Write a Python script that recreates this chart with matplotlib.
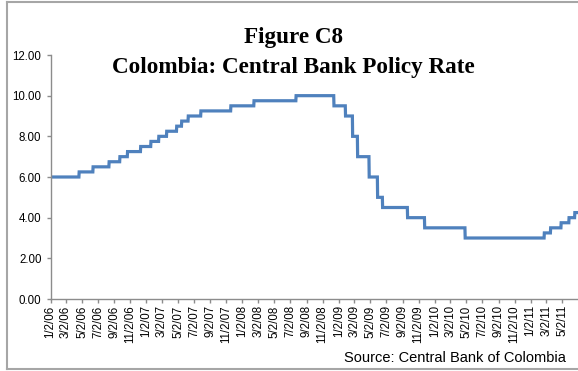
import numpy as np
import pandas as pd
import matplotlib
matplotlib.use('Agg')
import matplotlib.pyplot as plt
from matplotlib.lines import Line2D

# policy rate change dates and the new level set on each date (%)
change_dates = ['2006-01-02', '2006-04-21', '2006-06-13', '2006-08-13', '2006-09-23',
                '2006-10-22', '2006-12-11', '2007-01-19', '2007-02-18', '2007-03-20',
                '2007-04-27', '2007-05-16', '2007-06-10', '2007-07-28', '2007-11-19',
                '2008-02-15', '2008-07-24', '2008-12-15', '2009-01-28', '2009-02-24',
                '2009-03-15', '2009-04-28', '2009-05-30', '2009-06-18', '2009-09-21',
                '2009-11-25', '2010-04-28', '2011-02-23', '2011-03-19', '2011-04-28',
                '2011-05-28', '2011-06-19']
rate_levels = [6.00, 6.25, 6.50, 6.75, 7.00,
               7.25, 7.50, 7.75, 8.00, 8.25,
               8.50, 8.75, 9.00, 9.25, 9.50,
               9.75, 10.00, 9.50, 9.00, 8.00,
               7.00, 6.00, 5.00, 4.50, 4.00,
               3.50, 3.00, 3.25, 3.50, 3.75,
               4.00, 4.25]
last_date = '2011-06-28'

# daily series built from the step changes
steps = pd.Series(rate_levels, index=pd.to_datetime(change_dates))
days = pd.date_range(change_dates[0], last_date, freq='D')
daily = steps.reindex(days).ffill()

W, H = 578, 371
fig = plt.figure(figsize=(W / 100, H / 100), dpi=100)
fig.patch.set_facecolor('white')

ax = fig.add_axes([50.5 / W, 72 / H, (W - 50.5) / W, 244 / H])
ax.plot(daily.index, daily.values, color='#4F81BD', lw=2.3, solid_joinstyle='miter')

ax.set_ylim(0, 12)
ax.set_yticks(np.arange(0, 12.01, 2))
ax.set_yticklabels(['%.2f' % v for v in np.arange(0, 12.01, 2)])
ax.set_xlim(pd.Timestamp('2006-01-02'), pd.Timestamp('2011-07-01'))
xticks = pd.date_range('2006-01-01', '2011-05-01', freq='2MS') + pd.Timedelta(days=1)
ax.set_xticks(xticks)
ax.set_xticklabels(['%d/%d/%s' % (d.month, d.day, d.strftime('%y')) for d in xticks],
                   rotation=90, va='top', ha='center')

for s in ['top', 'right']:
    ax.spines[s].set_visible(False)
for s in ['left', 'bottom']:
    ax.spines[s].set_color('#8c8c8c')
    ax.spines[s].set_linewidth(1.0)
ax.tick_params(axis='both', colors='#8c8c8c', length=3, width=1.0, direction='out',
               labelcolor='black', labelsize=8.3)
ax.tick_params(axis='y', pad=3.5)
ax.tick_params(axis='x', pad=1.5)
for lab in ax.get_xticklabels() + ax.get_yticklabels():
    lab.set_fontfamily('Liberation Sans')

fig.text(293 / W, 1 - 37 / H, 'Figure C8', ha='center', va='center',
         fontfamily='Liberation Serif', fontweight='bold', fontsize=16.7)
fig.text(293 / W, 1 - 67 / H, 'Colombia: Central Bank Policy Rate', ha='center', va='center',
         fontfamily='Liberation Serif', fontweight='bold', fontsize=16.7)
fig.text(566 / W, 1 - 358 / H, 'Source: Central Bank of Colombia', ha='right', va='center',
         fontfamily='Liberation Sans', fontsize=10.5)

# chart frame (left, top and bottom edges)
frame = dict(color='#a6a6a6', lw=1.5, transform=fig.transFigure)
fig.add_artist(Line2D([7 / W, 7 / W], [1 - 2 / H, 1 - 369 / H], **frame))
fig.add_artist(Line2D([7 / W, 1], [1 - 2 / H, 1 - 2 / H], **frame))
fig.add_artist(Line2D([7 / W, 1], [1 - 369 / H, 1 - 369 / H], **frame))

fig.savefig('out.png', dpi=100)
